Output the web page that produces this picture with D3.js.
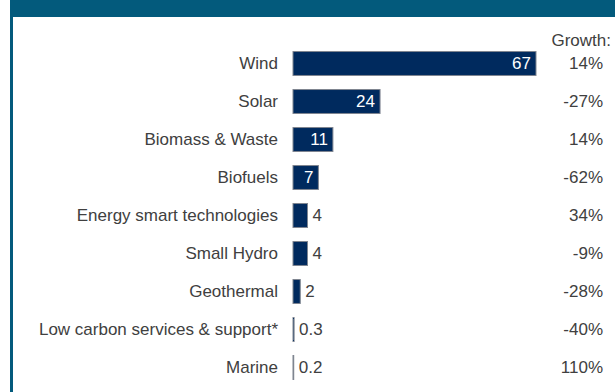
<!DOCTYPE html>
<html>
<head>
<meta charset="utf-8">
<script src="https://cdn.jsdelivr.net/npm/d3@7"></script>
<style>
  html, body { margin: 0; padding: 0; background: #fff; }
  svg { display: block; font-family: "Liberation Sans", Arial, sans-serif; }
</style>
</head>
<body>
<svg id="chart" width="615" height="392"></svg>
<script>
// Low carbon investment by sector (£bn) with year-on-year growth
const categories = [
  "Wind", "Solar", "Biomass & Waste", "Biofuels", "Energy smart technologies",
  "Small Hydro", "Geothermal", "Low carbon services & support*", "Marine"
];
const values = [67, 24, 11, 7, 4, 4, 2, 0.3, 0.2];
const valueLabels = ["67", "24", "11", "7", "4", "4", "2", "0.3", "0.2"];
const growth = ["14%", "-27%", "14%", "-62%", "34%", "-9%", "-28%", "-40%", "110%"];
const titleText = "Low carbon investment by sector, 2012 (£bn) and annual growth, by type of technology";

const svg = d3.select("#chart");
const W = 615, H = 392;
const teal = "#035a7c";
const navy = "#002a5e";
const textCol = "#404040";

// Frame: header band and left rule
svg.append("rect").attr("x", 10).attr("y", 0).attr("width", W - 10).attr("height", 17).attr("fill", teal);
svg.append("rect").attr("x", 10).attr("y", 0).attr("width", 3).attr("height", H).attr("fill", teal);
svg.append("text")
  .attr("x", 312).attr("y", -3)
  .attr("text-anchor", "middle")
  .attr("fill", "#fff")
  .attr("font-size", 17)
  .text(titleText);

const x = d3.scaleLinear().domain([0, 67]).range([293, 536]);
const y = d3.scaleBand().domain(categories).range([44.5, 386.5]).paddingInner(0.37).paddingOuter(0.185);

const rows = categories.map((c, i) => ({ c, v: values[i], label: valueLabels[i], g: growth[i] }));

// Category labels
svg.append("g").selectAll("text").data(rows).join("text")
  .attr("x", 278)
  .attr("y", d => y(d.c) + y.bandwidth() / 2)
  .attr("dy", "0.35em")
  .attr("text-anchor", "end")
  .attr("font-size", 17)
  .attr("fill", textCol)
  .text(d => d.c);

// Bars
svg.append("g").selectAll("rect").data(rows).join("rect")
  .attr("x", x(0))
  .attr("y", d => y(d.c))
  .attr("width", d => Math.max(0.6, x(d.v) - x(0)))
  .attr("height", y.bandwidth())
  .attr("fill", navy)
  .attr("stroke", "#7f8590")
  .attr("stroke-width", 1);

// Value labels: inside for long bars, outside for short ones
const inside = d => d.v >= 6;
svg.append("g").selectAll("text").data(rows).join("text")
  .attr("x", d => inside(d) ? x(d.v) - 5 : x(d.v) + 5)
  .attr("y", d => y(d.c) + y.bandwidth() / 2)
  .attr("dy", "0.35em")
  .attr("text-anchor", d => inside(d) ? "end" : "start")
  .attr("font-size", 17)
  .attr("fill", d => inside(d) ? "#fff" : textCol)
  .text(d => d.label);

// Growth column
svg.append("text")
  .attr("x", 611).attr("y", 40)
  .attr("dy", "0.35em")
  .attr("text-anchor", "end")
  .attr("font-size", 17)
  .attr("fill", textCol)
  .text("Growth:");

svg.append("g").selectAll("text").data(rows).join("text")
  .attr("x", 603)
  .attr("y", d => y(d.c) + y.bandwidth() / 2)
  .attr("dy", "0.35em")
  .attr("text-anchor", "end")
  .attr("font-size", 17)
  .attr("fill", textCol)
  .text(d => d.g);
</script>
</body>
</html>
